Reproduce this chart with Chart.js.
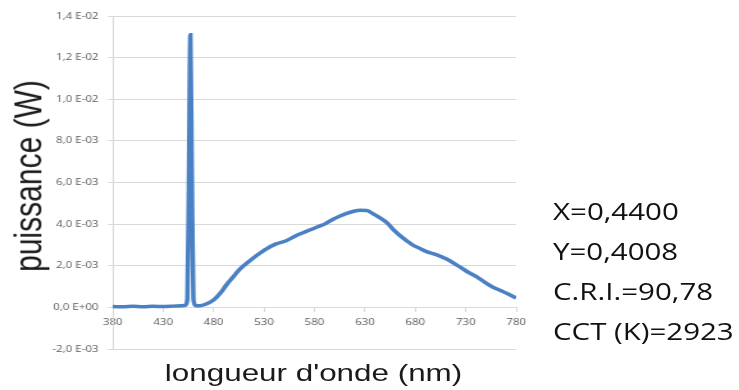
<!DOCTYPE html>
<html>
<head>
<meta charset="utf-8">
<script src="https://cdn.jsdelivr.net/npm/chart.js@4.4.0/dist/chart.umd.min.js"></script>
<style>
  html, body { margin: 0; padding: 0; background: #fff; overflow: hidden; }
  /* the reference picture is stretched sideways, so is the whole page */
  #wrap { position: absolute; left: 0; top: 0; width: 577px; height: 390px; transform: scaleX(1.2808); transform-origin: 0 0; }
  #box { position: absolute; left: 0; top: 0; width: 577px; height: 390px; }
  .ytitle { position: absolute; left: 21.5px; top: 175.5px; transform: translate(-50%, -50%) rotate(-90deg);
            font: 30px "Liberation Sans", Arial, sans-serif; color: #1a1a1a; white-space: nowrap; }
  .xtitle { position: absolute; left: 244.8px; top: 358.5px; transform: translateX(-50%); line-height: 1;
            font: 24.5px "Liberation Sans", Arial, sans-serif; color: #1a1a1a; white-space: nowrap; }
  .info { position: absolute; left: 431.8px; top: 191px; font: 23px "Open Sans", sans-serif; line-height: 40px; color: #111; white-space: nowrap; }
</style>
</head>
<body>
<div id="wrap">
  <div id="box"><canvas id="spectre"></canvas></div>
  <div class="ytitle">puissance (W)</div>
  <div class="xtitle">longueur d'onde (nm)</div>
  <div class="info">X=0,4400<br>Y=0,4008<br>C.R.I.=90,78<br>CCT (K)=2923</div>
</div>
<script>
// longueur d'onde (nm)
const wavelengths = [380, 390, 400, 410, 420, 430, 440, 448, 452, 454, 455.5, 457, 458.5, 460, 462, 466,
  472, 480, 487, 493, 500, 506, 515, 523, 532, 542, 552, 562, 572, 582, 590, 599, 606, 612, 619, 625,
  632, 638, 645, 652, 658, 665, 672, 678, 685, 691, 700, 711, 718, 724, 732, 741, 749, 757, 765, 771, 780];
// puissance (W)
const power = [0.00004, 0.00003, 0.00005, 0.00003, 0.00005, 0.00004, 0.00006, 0.00008, 0.0001, 0.0004, 0.006, 0.0131, 0.006, 0.0004, 0.0001, 0.00008,
  0.00015, 0.00035, 0.0007, 0.0011, 0.0015, 0.00184, 0.0022, 0.0025, 0.0028, 0.00305, 0.0032, 0.00345, 0.00365, 0.00385, 0.004, 0.00425, 0.0044, 0.00452, 0.00462, 0.00467,
  0.00466, 0.0045, 0.0043, 0.00406, 0.00375, 0.00344, 0.00318, 0.00298, 0.00282, 0.00268, 0.00255, 0.00232, 0.00213, 0.00195, 0.0017, 0.00147, 0.0012, 0.00097, 0.0008, 0.00067, 0.00045];

const xTicks = [380, 430, 480, 530, 580, 630, 680, 730, 780];
const xTickLabels = ['380', '430', '480', '530', '580', '630', '680', '730', '780'];
const yTicks = [-0.002, 0, 0.002, 0.004, 0.006, 0.008, 0.010, 0.012, 0.014];
const yTickLabels = ['-2,0 E-03', '0,0 E+00', '2,0 E-03', '4,0 E-03', '6,0 E-03', '8,0 E-03', '1,0 E-02', '1,2 E-02', '1,4 E-02'];

const gridColor = '#d9d9d9';
const tickFont = { family: 'Open Sans', size: 9 };

new Chart(document.getElementById('spectre').getContext('2d'), {
  type: 'line',
  data: {
    datasets: [{
      data: wavelengths.map((w, i) => ({ x: w, y: power[i] })),
      borderColor: '#4a80c4',
      borderWidth: 3.5,
      pointRadius: 0,
      fill: false,
      cubicInterpolationMode: 'monotone'
    }]
  },
  options: {
    responsive: true,
    maintainAspectRatio: false,
    animation: false,
    layout: { padding: { left: 0, top: 16, right: 174, bottom: 41 } },
    plugins: { legend: { display: false }, tooltip: { enabled: false } },
    scales: {
      x: {
        type: 'linear',
        position: { y: 0 },
        min: 380,
        max: 780,
        afterBuildTicks: s => { s.ticks = xTicks.map(v => ({ value: v })); },
        ticks: { autoSkip: false, maxRotation: 0, padding: 6, color: '#595959', font: tickFont,
                 callback: (v, i) => xTickLabels[i] },
        grid: { drawOnChartArea: false, drawTicks: true, tickLength: 4, color: gridColor },
        border: { color: gridColor }
      },
      y: {
        min: -0.002,
        max: 0.014,
        afterFit: s => { s.width = 88; },
        afterBuildTicks: s => { s.ticks = yTicks.map(v => ({ value: v })); },
        ticks: { autoSkip: false, padding: 7, color: '#595959', font: tickFont,
                 callback: (v, i) => yTickLabels[i] },
        grid: { color: gridColor, tickLength: 4 },
        border: { color: gridColor }
      }
    }
  }
});
</script>
</body>
</html>
